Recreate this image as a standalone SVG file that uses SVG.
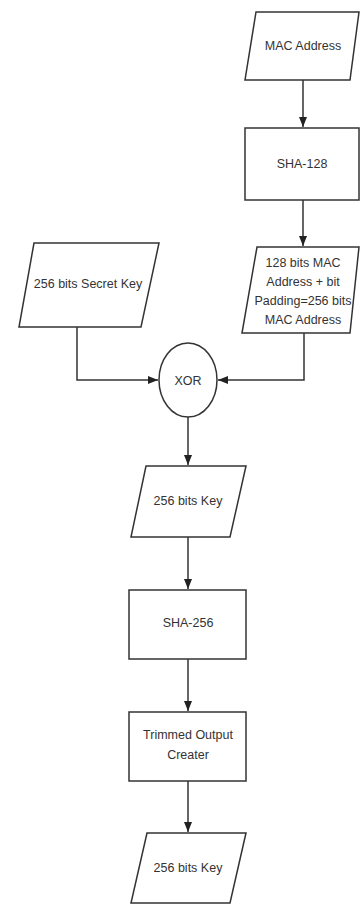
<svg xmlns="http://www.w3.org/2000/svg" width="360" height="904" viewBox="0 0 360 904">
<defs>
<marker id="ah" viewBox="0 0 10 8" refX="10" refY="4" markerWidth="10" markerHeight="8" markerUnits="userSpaceOnUse" orient="auto">
<path d="M0,0 L10,4 L0,8 z" fill="#222"/>
</marker>
<style>
.s{fill:#fff;stroke:#333;stroke-width:1.5}
.t{font-family:"Liberation Sans",Arial,sans-serif;font-size:12.5px;fill:#333;text-anchor:middle}
.c{fill:none;stroke:#333;stroke-width:1.5;marker-end:url(#ah)}
</style>
</defs>
<rect width="360" height="904" fill="#fff"/>
<g id="connectors">
<path class="c" d="M303,80 V127"/>
<path class="c" d="M303,200 V246"/>
<path class="c" d="M304,333 V380 H218"/>
<path class="c" d="M77,327 V380 H158"/>
<path class="c" d="M188,417 V465"/>
<path class="c" d="M188,537 V589"/>
<path class="c" d="M188,659 V711"/>
<path class="c" d="M188,781 V832"/>
</g>
<g id="mac">
<polygon class="s" points="256,12 359,12 350,80 245,80"/>
<text class="t" x="303" y="50">MAC Address</text>
</g>
<g id="sha128">
<rect class="s" x="245" y="128" width="114" height="72"/>
<text class="t" x="302" y="168">SHA-128</text>
</g>
<g id="padded">
<polygon class="s" points="257,247 359,247 350,333 242,333"/>
<text class="t" x="303" y="267">128 bits MAC</text>
<text class="t" x="303" y="286">Address + bit</text>
<text class="t" x="303" y="305">Padding=256 bits</text>
<text class="t" x="303" y="324">MAC Address</text>
</g>
<g id="secret">
<polygon class="s" points="34,243 159,243 141,327 19,327"/>
<text class="t" x="88" y="288">256 bits Secret Key</text>
</g>
<g id="xor">
<ellipse class="s" cx="188" cy="380" rx="29" ry="37"/>
<text class="t" x="188" y="385">XOR</text>
</g>
<g id="key1">
<polygon class="s" points="146,466 246,466 230,537 131,537"/>
<text class="t" x="188" y="505">256 bits Key</text>
</g>
<g id="sha256">
<rect class="s" x="129" y="590" width="117" height="69"/>
<text class="t" x="188" y="627">SHA-256</text>
</g>
<g id="trim">
<rect class="s" x="129" y="712" width="117" height="69"/>
<text class="t" x="188" y="739">Trimmed  Output</text>
<text class="t" x="188" y="759">Creater</text>
</g>
<g id="key2">
<polygon class="s" points="147,833 246,833 230,903 131,903"/>
<text class="t" x="188" y="872">256 bits Key</text>
</g>
</svg>
